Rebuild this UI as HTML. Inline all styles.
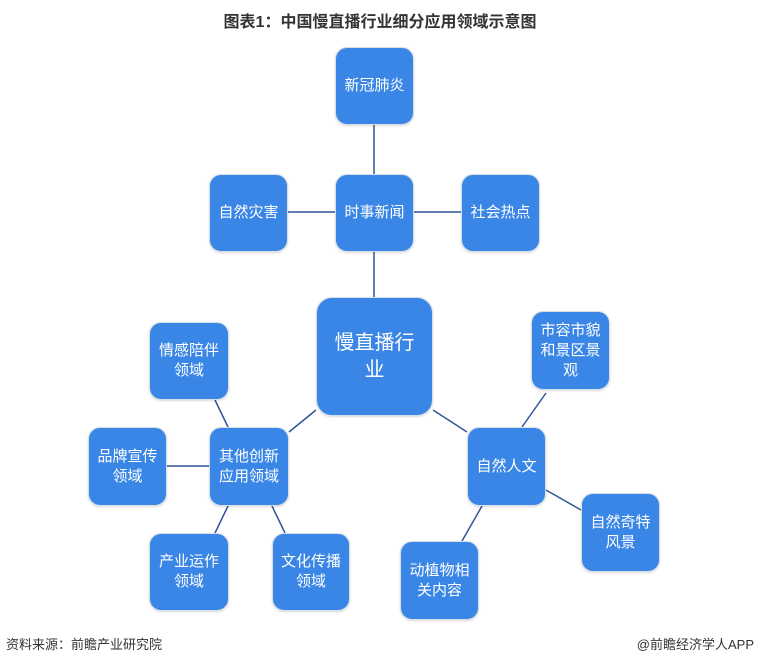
<!DOCTYPE html>
<html><head><meta charset="utf-8"><style>
body{margin:0;width:760px;height:664px;background:#fff;position:relative;overflow:hidden;font-family:"Liberation Sans","Noto Sans CJK SC",sans-serif}
.t{position:absolute;left:0;width:760px;top:8px;text-align:center;font-size:16px;font-weight:bold;color:#333}
.n{position:absolute;box-sizing:border-box;background:#3a86e6;border:1.5px solid #d9dfe8;border-radius:12px;color:#fff;display:flex;align-items:center;justify-content:center;text-align:center;font-size:15px;line-height:20px;padding:4px;box-shadow:0 1px 2px rgba(0,0,0,.15)}
.f{position:absolute;top:634px;font-size:13px;color:#333}
svg{position:absolute;left:0;top:0}
</style></head><body>
<div class="t">图表1：中国慢直播行业细分应用领域示意图</div>
<svg width="760" height="664" stroke="#2f5597" stroke-width="1.5">
<line x1="374" y1="125" x2="374" y2="174"/>
<line x1="374" y1="252" x2="374" y2="297"/>
<line x1="288" y1="212" x2="335" y2="212"/>
<line x1="414" y1="212" x2="461" y2="212"/>
<line x1="316" y1="410" x2="289" y2="432"/>
<line x1="433" y1="410" x2="467" y2="432"/>
<line x1="215" y1="400" x2="228" y2="427"/>
<line x1="167" y1="466" x2="209" y2="466"/>
<line x1="228" y1="506" x2="215" y2="533"/>
<line x1="272" y1="506" x2="285" y2="533"/>
<line x1="546" y1="393" x2="522" y2="427"/>
<line x1="546" y1="490" x2="581" y2="510"/>
<line x1="482" y1="506" x2="462" y2="541"/>
</svg>
<div class="n" style="left:335px;top:47px;width:79px;height:78px">新冠肺炎</div>
<div class="n" style="left:335px;top:174px;width:79px;height:78px">时事新闻</div>
<div class="n" style="left:209px;top:174px;width:79px;height:78px">自然灾害</div>
<div class="n" style="left:461px;top:174px;width:79px;height:78px">社会热点</div>
<div class="n" style="left:316px;top:297px;width:117px;height:119px;font-size:20px;line-height:27px;border-radius:16px;padding:8px 14px">慢直播行业</div>
<div class="n" style="left:149px;top:322px;width:80px;height:78px">情感陪伴<br>领域</div>
<div class="n" style="left:209px;top:427px;width:80px;height:79px">其他创新<br>应用领域</div>
<div class="n" style="left:88px;top:427px;width:79px;height:79px">品牌宣传<br>领域</div>
<div class="n" style="left:149px;top:533px;width:80px;height:78px">产业运作<br>领域</div>
<div class="n" style="left:272px;top:533px;width:78px;height:78px">文化传播<br>领域</div>
<div class="n" style="left:531px;top:311px;width:79px;height:79px;padding:4px 8px">市容市貌和景区景观</div>
<div class="n" style="left:467px;top:427px;width:79px;height:79px">自然人文</div>
<div class="n" style="left:581px;top:493px;width:79px;height:79px">自然奇特<br>风景</div>
<div class="n" style="left:400px;top:541px;width:79px;height:79px">动植物相<br>关内容</div>
<div class="f" style="left:6px">资料来源：前瞻产业研究院</div>
<div class="f" style="right:6px">@前瞻经济学人APP</div>
</body></html>
